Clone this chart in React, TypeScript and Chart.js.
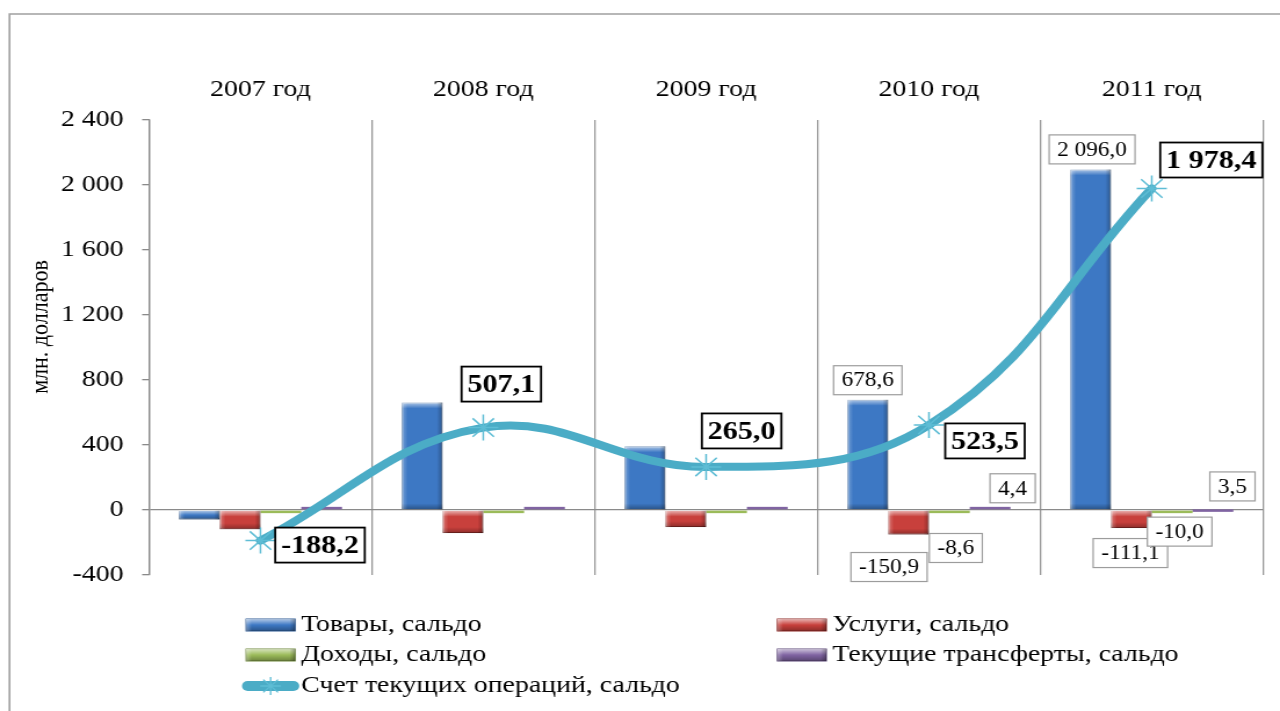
import React, { useEffect, useRef } from 'react';
import { Chart, registerables } from 'chart.js';

Chart.register(...registerables);

// ---------- data ----------
const categories = ['2007 год', '2008 год', '2009 год', '2010 год', '2011 год'];
const goodsBalance = [-58, 662, 392, 678.6, 2096.0];
const servicesBalance = [-118, -142, -105, -150.9, -111.1];
const incomeBalance = [-5, -8, -8, -8.6, -10.0];
const transfersBalance = [8, 6, 5, 4.4, 3.5];
const currentAccountBalance = [-188.2, 507.1, 265.0, 523.5, 1978.4];
const yTickValues = [-400, 0, 400, 800, 1200, 1600, 2000, 2400];
const seriesNames = [
  'Товары, сальдо',
  'Услуги, сальдо',
  'Доходы, сальдо',
  'Текущие трансферты, сальдо',
  'Счет текущих операций, сальдо',
];
const axisTitle = 'млн. долларов';
// bars whose values are shown in boxes: [datasetIndex, dataIndex]
const labelledBars = [
  [0, 3], [1, 3], [2, 3], [3, 3],
  [0, 4], [1, 4], [2, 4], [3, 4],
];

// ---------- layout ----------
const STRETCH = 1.16;
const W = Math.round(1280 / STRETCH);
const H = 711;
const FONT = '"Liberation Serif", "Times New Roman", serif';
const sx = (px: number) => px / STRETCH; // screen x → canvas x

function fmtNum(v: number, decimals: number) {
  const neg = v < 0;
  const s = Math.abs(v).toFixed(decimals);
  const [i, d] = s.split('.');
  const grouped = i.replace(/\B(?=(\d{3})+(?!\d))/g, ' ');
  return (neg ? '-' : '') + grouped + (d ? ',' + d : '');
}

function drawBox(
  ctx: CanvasRenderingContext2D,
  text: string,
  cx: number,
  cy: number,
  font: string,
  padX: number,
  h: number,
  borderColor: string,
  borderWidth: number,
) {
  ctx.save();
  ctx.font = font;
  const tw = ctx.measureText(text).width;
  const w = tw + padX * 2;
  ctx.fillStyle = '#ffffff';
  ctx.fillRect(cx - w / 2, cy - h / 2, w, h);
  ctx.lineWidth = borderWidth;
  ctx.strokeStyle = borderColor;
  ctx.strokeRect(cx - w / 2, cy - h / 2, w, h);
  ctx.fillStyle = '#000000';
  ctx.textAlign = 'center';
  ctx.textBaseline = 'middle';
  ctx.fillText(text, cx, cy + 1);
  ctx.restore();
}

function bevel(ctx: CanvasRenderingContext2D, left: number, top: number, w: number, h: number) {
  if (h < 3 || w < 3) return;
  ctx.save();
  const e = Math.min(6, h / 2);
  let g = ctx.createLinearGradient(0, top, 0, top + e);
  g.addColorStop(0, 'rgba(255,255,255,0.6)');
  g.addColorStop(1, 'rgba(255,255,255,0)');
  ctx.fillStyle = g;
  ctx.fillRect(left, top, w, e);
  g = ctx.createLinearGradient(0, top + h - e, 0, top + h);
  g.addColorStop(0, 'rgba(0,0,0,0)');
  g.addColorStop(1, 'rgba(0,0,0,0.3)');
  ctx.fillStyle = g;
  ctx.fillRect(left, top + h - e, w, e);
  g = ctx.createLinearGradient(left, 0, left + 5, 0);
  g.addColorStop(0, 'rgba(255,255,255,0.3)');
  g.addColorStop(1, 'rgba(255,255,255,0)');
  ctx.fillStyle = g;
  ctx.fillRect(left, top, 5, h);
  g = ctx.createLinearGradient(left + w - 5, 0, left + w, 0);
  g.addColorStop(0, 'rgba(0,0,0,0)');
  g.addColorStop(1, 'rgba(0,0,0,0.28)');
  ctx.fillStyle = g;
  ctx.fillRect(left + w - 5, top, 5, h);
  ctx.restore();
}

const decorPlugin = {
  id: 'decor',
  beforeDraw(chart: any) {
    const ctx = chart.ctx as CanvasRenderingContext2D;
    ctx.save();
    ctx.fillStyle = '#ffffff';
    ctx.fillRect(0, 0, W, H);
    ctx.strokeStyle = '#a0a0a0';
    ctx.lineWidth = 1.6;
    ctx.beginPath();
    ctx.moveTo(sx(9.5), H + 5);
    ctx.lineTo(sx(9.5), 14);
    ctx.lineTo(W + 5, 14);
    ctx.stroke();
    // axis title
    ctx.translate(sx(41), 327);
    ctx.rotate(-Math.PI / 2);
    ctx.font = `22px ${FONT}`;
    ctx.fillStyle = '#000';
    ctx.textAlign = 'center';
    ctx.textBaseline = 'middle';
    ctx.fillText(axisTitle, 0, 0);
    ctx.restore();
  },
  afterDatasetDraw(chart: any, args: any) {
    const meta = args.meta;
    if (meta.type !== 'bar') return;
    const ctx = chart.ctx as CanvasRenderingContext2D;
    const ds = chart.data.datasets[args.index];
    meta.data.forEach((el: any) => {
      const { x, y, base, width } = el.getProps(['x', 'y', 'base', 'width'], true);
      const top = Math.min(y, base);
      const h = Math.abs(base - y);
      if (h < 2.5) {
        // very small values: keep a thin visible sliver like the original
        ctx.save();
        ctx.fillStyle = ds.backgroundColor;
        const t = y <= base ? base - 2.5 : base;
        ctx.fillRect(x - width / 2, t, width, 2.5);
        ctx.restore();
      } else {
        bevel(ctx, x - width / 2, top, width, h);
      }
    });
  },
  afterDatasetsDraw(chart: any) {
    const ctx = chart.ctx as CanvasRenderingContext2D;
    // bar value boxes: offsets (screen px) from the bar's value end
    const barOffsets: Record<string, [number, number]> = {
      '0-3': [0, -19.5],
      '1-3': [-19.5, 32.5],
      '2-3': [6.5, 36.6],
      '3-3': [22.5, -21],
      '0-4': [1.5, -20],
      '1-4': [-1, 25],
      '2-4': [7.5, 20],
      '3-4': [19.5, -23],
    };
    labelledBars.forEach(([ds, i]) => {
      const el = chart.getDatasetMeta(ds).data[i];
      if (!el) return;
      const off = barOffsets[`${ds}-${i}`] || [0, -20];
      const v = chart.data.datasets[ds].data[i] as number;
      drawBox(ctx, fmtNum(v, 1), el.x + sx(off[0]), el.y + off[1], `20px ${FONT}`, 7, 29, '#9c9c9c', 1.2);
    });
    // line value boxes
    const lineOffsets: [number, number][] = [
      [59.5, 4.5],
      [18, -43.5],
      [35.5, -36],
      [56, 16],
      [59.5, -28.5],
    ];
    const lineIdx = chart.data.datasets.length - 1;
    const lmeta = chart.getDatasetMeta(lineIdx);
    lmeta.data.forEach((el: any, i: number) => {
      const v = chart.data.datasets[lineIdx].data[i] as number;
      const off = lineOffsets[i];
      drawBox(ctx, fmtNum(v, 1), el.x + sx(off[0]), el.y + off[1], `bold 26px ${FONT}`, 5, 35, '#000000', 1.8);
    });
  },
  afterDraw(chart: any) {
    const ctx = chart.ctx as CanvasRenderingContext2D;
    const colX = [sx(246), sx(777)];
    const swW = sx(49);
    const textGap = sx(6);
    const rowY = [625, 655, 686];
    ctx.save();
    chart.data.datasets.forEach((ds: any, i: number) => {
      const col = i % 2;
      const row = Math.floor(i / 2);
      const x = colX[col];
      const y = rowY[row];
      if (ds.type === 'line') {
        const lx0 = sx(243);
        const lx1 = sx(298);
        ctx.strokeStyle = ds.borderColor;
        ctx.lineWidth = 10;
        ctx.lineCap = 'round';
        ctx.beginPath();
        ctx.moveTo(lx0 + 4, y);
        ctx.lineTo(lx1 - 4, y);
        ctx.stroke();
        const cx = (lx0 + lx1) / 2;
        const r = 9;
        ctx.strokeStyle = ds.pointBorderColor;
        ctx.lineWidth = 1.3;
        ctx.lineCap = 'butt';
        ctx.beginPath();
        for (let k = 0; k < 4; k++) {
          const a = (k * Math.PI) / 4;
          ctx.moveTo(cx - Math.cos(a) * r, y - Math.sin(a) * r);
          ctx.lineTo(cx + Math.cos(a) * r, y + Math.sin(a) * r);
        }
        ctx.stroke();
        ctx.font = `24px ${FONT}`;
        ctx.fillStyle = '#000';
        ctx.textAlign = 'left';
        ctx.textBaseline = 'middle';
        ctx.fillText(ds.label, lx1 + sx(3), y);
      } else {
        const h = 12;
        ctx.fillStyle = ds.backgroundColor;
        ctx.fillRect(x, y - h / 2, swW, h);
        ctx.strokeStyle = ds.borderColor;
        ctx.lineWidth = 1;
        ctx.strokeRect(x, y - h / 2, swW, h);
        bevel(ctx, x, y - h / 2, swW, h);
        ctx.font = `24px ${FONT}`;
        ctx.fillStyle = '#000';
        ctx.textAlign = 'left';
        ctx.textBaseline = 'middle';
        ctx.fillText(ds.label, x + swW + textGap, y);
      }
    });
    ctx.restore();
  },
};

export default function App() {
  const canvasRef = useRef<HTMLCanvasElement | null>(null);

  useEffect(() => {
    const canvas = canvasRef.current;
    if (!canvas) return;
    Chart.defaults.font.family = FONT;
    const barColors = ['#3D78C4', '#C8403C', '#9BBB59', '#8064A2'];
    const barBorders = ['#2E5B94', '#8E2A27', '#71893F', '#5C4878'];
    const barSeries = [goodsBalance, servicesBalance, incomeBalance, transfersBalance];
    const chart = new Chart(canvas, {
      type: 'bar',
      data: {
        labels: categories,
        datasets: [
          ...barSeries.map((data, k) => ({
            type: 'bar' as const,
            label: seriesNames[k],
            data,
            backgroundColor: barColors[k],
            borderColor: barBorders[k],
            borderWidth: 1,
            categoryPercentage: 0.732,
            barPercentage: 1.0,
            order: 1,
          })),
          {
            type: 'line' as const,
            label: seriesNames[4],
            data: currentAccountBalance,
            borderColor: '#4BACC6',
            borderWidth: 8,
            tension: 0.4,
            borderCapStyle: 'round' as const,
            pointStyle: 'star' as const,
            pointRadius: 13,
            pointBorderColor: '#5EBDD5',
            pointBorderWidth: 1.5,
            pointBackgroundColor: 'rgba(0,0,0,0)',
            order: 0,
          },
        ],
      },
      options: {
        responsive: false,
        devicePixelRatio: 1,
        animation: false,
        layout: { padding: { left: 0, top: 0, right: W - sx(1269.5), bottom: H - 575 } },
        plugins: { legend: { display: false }, tooltip: { enabled: false } },
        scales: {
          x: {
            position: 'top',
            offset: true,
            grid: { display: true, offset: true, drawTicks: false, color: '#9a9a9a', lineWidth: 1.3 },
            border: { display: false },
            ticks: { padding: 16, font: { size: 24 }, color: '#000', maxRotation: 0, autoSkip: false },
            afterFit: (s: any) => { s.height = 120; },
          },
          y: {
            min: yTickValues[0],
            max: yTickValues[yTickValues.length - 1],
            ticks: {
              stepSize: yTickValues[1] - yTickValues[0],
              padding: 16,
              font: { size: 24 },
              color: '#000',
              callback: (v: any) => fmtNum(Number(v), 0),
            },
            grid: {
              color: (c: any) => (c.tick && c.tick.value === 0 ? '#8a8a8a' : 'rgba(0,0,0,0)'),
              tickColor: '#8a8a8a',
              tickLength: 6,
              drawTicks: true,
              lineWidth: 1.3,
            },
            border: { display: true, color: '#8a8a8a', width: 1.3 },
            afterFit: (s: any) => { s.width = sx(149); },
          },
        },
      },
      plugins: [decorPlugin],
    });
    return () => chart.destroy();
  }, []);

  return (
    <div style={{ position: 'fixed', left: 0, top: 0, width: '1280px', height: '711px', background: '#fff' }}>
      <canvas
        ref={canvasRef}
        width={W}
        height={H}
        style={{ width: '1280px', height: '711px', display: 'block' }}
      />
    </div>
  );
}
